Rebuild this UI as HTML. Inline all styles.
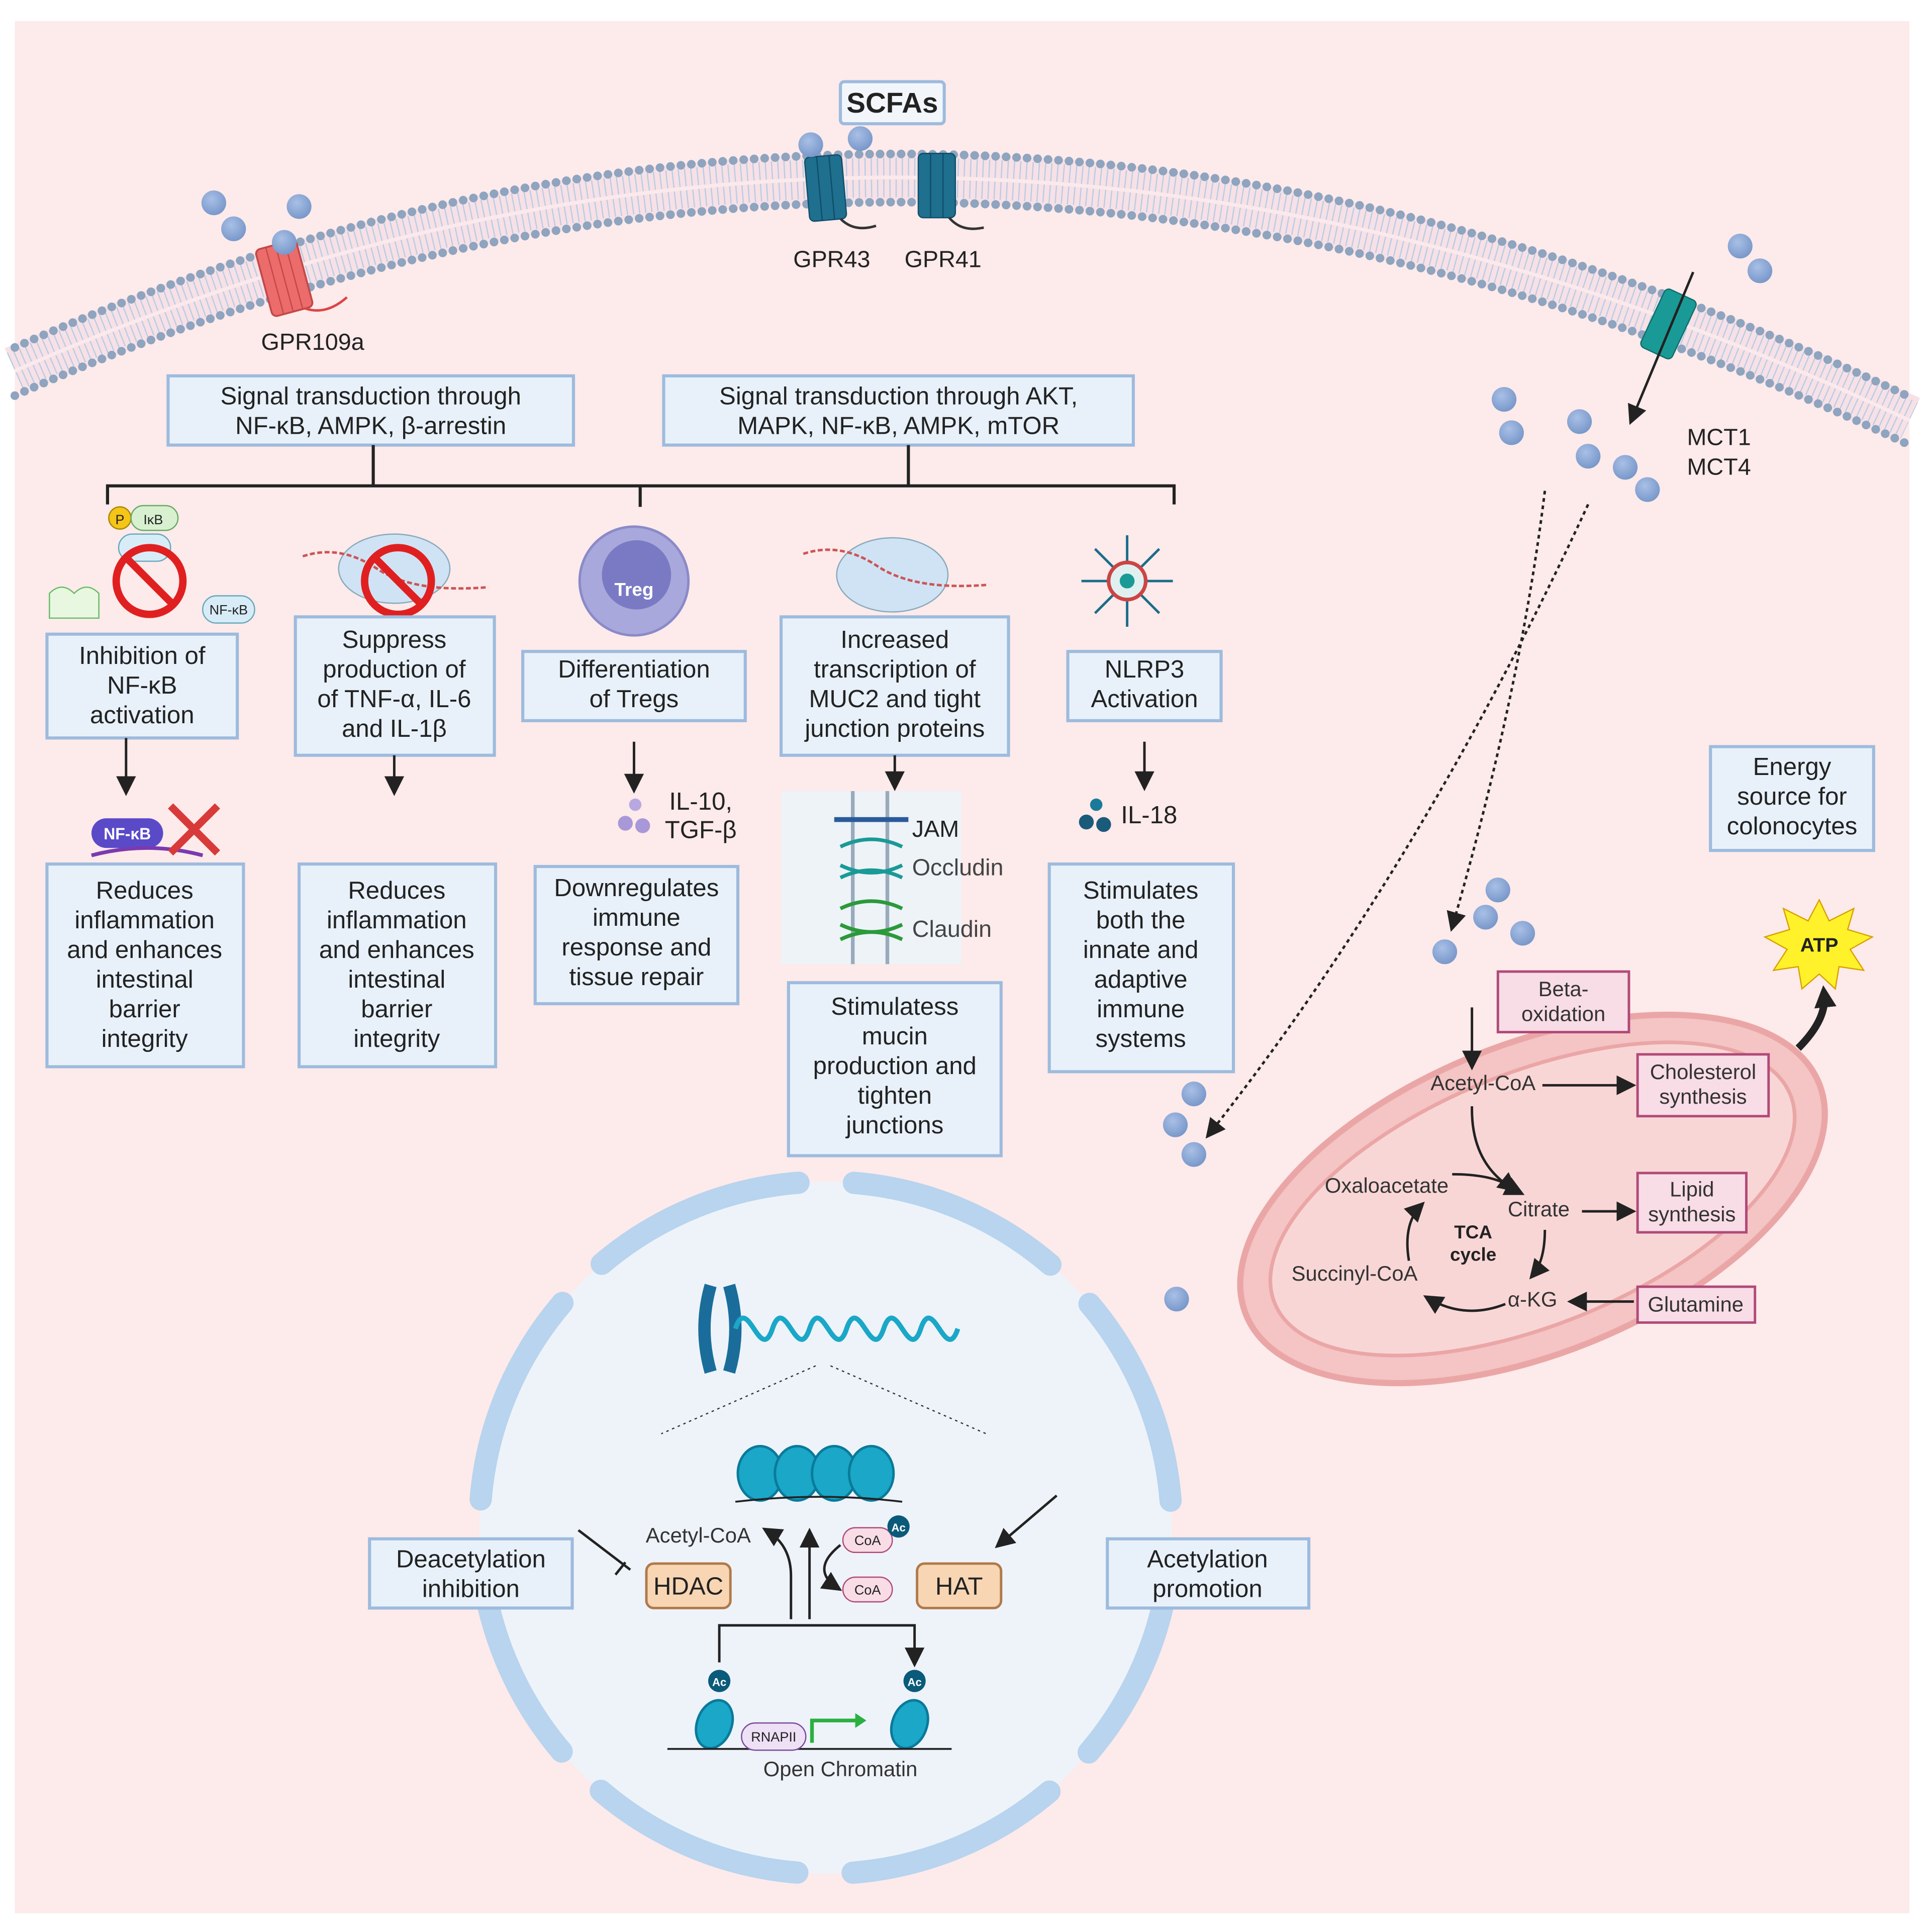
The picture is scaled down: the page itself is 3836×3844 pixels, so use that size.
<!DOCTYPE html>
<html><head><meta charset="utf-8"><style>
html,body{margin:0;padding:0;background:#fff}
svg{display:block}
text{font-family:"Liberation Sans",sans-serif;fill:#222}
.b{fill:#e8f1fa;stroke:#9dbbdd;stroke-width:2.5}
.t{font-size:20px;text-anchor:middle}
.s{font-size:16px;fill:#333}
.p{fill:#f8dce6;stroke:#b04a78;stroke-width:2}
.d{fill:#8aa6d4}
.ar{stroke:#222;stroke-width:2;fill:none;marker-end:url(#ah)}
</style></head><body>
<svg width="3836" height="3844" viewBox="0 0 1560 1563" xmlns="http://www.w3.org/2000/svg">
<defs>
<marker id="ah" markerWidth="8" markerHeight="8" refX="6" refY="4" orient="auto"><path d="M0,0 L8,4 L0,8 z" fill="#222"/></marker>
<marker id="ah2" markerWidth="18" markerHeight="18" refX="10" refY="9" orient="auto" markerUnits="userSpaceOnUse"><path d="M0,0 L18,9 L0,18 z" fill="#222"/></marker>
<radialGradient id="dg" cx="0.4" cy="0.35" r="0.7"><stop offset="0" stop-color="#a9c0e6"/><stop offset="1" stop-color="#7595c8"/></radialGradient>
</defs>
<rect x="0" y="0" width="1560" height="1563" fill="#fff"/>
<rect x="12" y="17" width="1533" height="1531" fill="#fdeaea"/>
<!-- membrane -->
<path d="M12,300 Q760,-32 1545,340" stroke="#f7e1e6" stroke-width="40" fill="none"/>
<path d="M12,300 Q760,-32 1545,340" stroke="#b9cde4" stroke-width="32" stroke-dasharray="1 4" fill="none"/>
<path d="M12,300 Q760,-32 1545,340" stroke="#fbe9ec" stroke-width="3" fill="none"/>
<path d="M12,281 Q760,-51 1545,321" stroke="#8ea4bf" stroke-width="7" stroke-linecap="round" stroke-dasharray="0 8.5" fill="none"/>
<path d="M12,320 Q760,-12 1545,360" stroke="#8ea4bf" stroke-width="7" stroke-linecap="round" stroke-dasharray="0 8.5" fill="none"/>
<!-- SCFA box -->
<rect x="680" y="66" width="84" height="34" rx="3" fill="#f2f6fb" stroke="#9dbbdd" stroke-width="2.5"/>
<text x="722" y="91" style="font-size:23px;font-weight:bold" text-anchor="middle">SCFAs</text>
<!-- receptors -->
<g transform="translate(230,225) rotate(-15)"><rect x="-17" y="-28" width="34" height="56" rx="4" fill="#ec6b6b" stroke="#c24848" stroke-width="1.5"/><path d="M-8,-28v56M0,-28v56M8,-28v56" stroke="#c24848"/><path d="M10,28 q15,10 35,0" stroke="#d44" stroke-width="2" fill="none"/></g>
<g transform="translate(668,152) rotate(-5)"><rect x="-15" y="-26" width="30" height="52" rx="4" fill="#1f6f8e" stroke="#0f4e69"/><path d="M-5,-26v52M5,-26v52" stroke="#0f4e69"/><path d="M10,26 q10,12 28,8" stroke="#333" stroke-width="2" fill="none"/></g>
<g transform="translate(758,150)"><rect x="-15" y="-26" width="30" height="52" rx="4" fill="#1f6f8e" stroke="#0f4e69"/><path d="M-5,-26v52M5,-26v52" stroke="#0f4e69"/><path d="M10,26 q10,12 28,8" stroke="#333" stroke-width="2" fill="none"/></g>
<g transform="translate(1350,262) rotate(25)"><rect x="-14" y="-26" width="28" height="52" rx="4" fill="#1a9a96" stroke="#0e6d6a"/></g>
<line x1="1370" y1="220" x2="1320" y2="340" class="ar"/>
<text x="253" y="283" class="t" style="font-size:19px">GPR109a</text>
<text x="673" y="216" class="t" style="font-size:19px">GPR43</text>
<text x="763" y="216" class="t" style="font-size:19px">GPR41</text>
<text x="1365" y="360" style="font-size:19px">MCT1</text>
<text x="1365" y="384" style="font-size:19px">MCT4</text>
<!-- dots -->
<g fill="url(#dg)">
<circle cx="173" cy="164" r="10"/><circle cx="189" cy="185" r="10"/><circle cx="242" cy="167" r="10"/><circle cx="230" cy="196" r="10"/>
<circle cx="656" cy="117" r="10"/><circle cx="696" cy="112" r="10"/><circle cx="1408" cy="199" r="10"/><circle cx="1424" cy="219" r="10"/>
<circle cx="1217" cy="323" r="10"/><circle cx="1223" cy="350" r="10"/><circle cx="1278" cy="341" r="10"/><circle cx="1285" cy="369" r="10"/>
<circle cx="1315" cy="378" r="10"/><circle cx="1333" cy="396" r="10"/><circle cx="1212" cy="720" r="10"/><circle cx="1202" cy="742" r="10"/>
<circle cx="1232" cy="755" r="10"/><circle cx="1169" cy="770" r="10"/><circle cx="966" cy="885" r="10"/><circle cx="951" cy="910" r="10"/>
<circle cx="966" cy="934" r="10"/><circle cx="952" cy="1051" r="10"/><circle cx="441" cy="1197" r="10"/><circle cx="475" cy="1197" r="10"/>
<circle cx="455" cy="1217" r="10"/><circle cx="880" cy="1155" r="10"/><circle cx="870" cy="1178" r="10"/><circle cx="898" cy="1190" r="10"/>
</g>
<!-- dotted paths -->
<path d="M1250,397 Q1230,560 1175,750" stroke="#222" stroke-width="2" stroke-dasharray="3 3" fill="none" marker-end="url(#ah)"/>
<path d="M1285,408 Q1150,700 978,918" stroke="#222" stroke-width="2" stroke-dasharray="3 3" fill="none" marker-end="url(#ah)"/>
<!-- signal boxes -->
<rect x="136" y="304" width="328" height="56" class="b"/>
<text class="t" x="300" y="327">Signal transduction through<tspan x="300" dy="24">NF-κB, AMPK, β-arrestin</tspan></text>
<rect x="537" y="304" width="380" height="56" class="b"/>
<text class="t" x="727" y="327">Signal transduction through AKT,<tspan x="727" dy="24">MAPK, NF-κB, AMPK, mTOR</tspan></text>
<path d="M302,360V393M735,360V393M87,408V393H950V408M518,393V410" stroke="#222" stroke-width="2.5" fill="none"/>
<!-- icons row -->
<circle cx="97" cy="419" r="9" fill="#f5c518" stroke="#a80"/><text x="97" y="424" class="t" style="font-size:11px">P</text>
<rect x="106" y="409" width="38" height="20" rx="10" fill="#d8f0d0" stroke="#6a6"/><text x="124" y="424" class="t" style="font-size:11px">IκB</text>
<rect x="96" y="432" width="42" height="22" rx="11" fill="#d8ecf8" stroke="#6ab"/>
<circle cx="121" cy="470" r="27" fill="none" stroke="#e02020" stroke-width="6"/><line x1="102" y1="451" x2="140" y2="489" stroke="#e02020" stroke-width="6"/>
<path d="M40,480q10,-10 20,0q10,-10 20,0v20h-40z" fill="#e8f8e0" stroke="#6b6"/>
<rect x="164" y="482" width="42" height="22" rx="11" fill="#d8ecf8" stroke="#6ab"/><text x="185" y="497" class="t" style="font-size:11px">NF-κB</text>
<ellipse cx="319" cy="460" rx="45" ry="28" fill="#cfe3f5" stroke="#8ab"/>
<path d="M245,450 q30,-10 60,10 t90,15" stroke="#c55" stroke-width="2" fill="none" stroke-dasharray="4 2"/>
<circle cx="322" cy="470" r="27" fill="none" stroke="#e02020" stroke-width="6"/><line x1="303" y1="451" x2="341" y2="489" stroke="#e02020" stroke-width="6"/>
<circle cx="513" cy="470" r="44" fill="#a8a8dc" stroke="#8a8ac8" stroke-width="2"/><circle cx="515" cy="465" r="28" fill="#7a7ac4"/>
<text x="513" y="482" class="t" style="font-size:15px;font-weight:bold;fill:#fff">Treg</text>
<ellipse cx="722" cy="465" rx="45" ry="30" fill="#cfe3f5" stroke="#8ab"/>
<path d="M650,448 q30,-10 60,10 t90,15" stroke="#c55" stroke-width="2" fill="none" stroke-dasharray="4 2"/>
<g stroke="#1a6d8a" stroke-width="2"><path d="M875,470h74M912,433v74M886,444l52,52M938,444l-52,52"/></g>
<circle cx="912" cy="470" r="15" fill="#e0f0f0" stroke="#c44" stroke-width="3"/><circle cx="912" cy="470" r="6" fill="#1a9a96"/>
<!-- row boxes -->
<rect x="38" y="513" width="154" height="84" class="b"/>
<text class="t" x="115" y="537">Inhibition of<tspan x="115" dy="24">NF-κB</tspan><tspan x="115" dy="24">activation</tspan></text>
<rect x="239" y="499" width="161" height="112" class="b"/>
<text class="t" x="319" y="524">Suppress<tspan x="319" dy="24">production of</tspan><tspan x="319" dy="24">of TNF-α, IL-6</tspan><tspan x="319" dy="24">and IL-1β</tspan></text>
<rect x="423" y="527" width="180" height="56" class="b"/>
<text class="t" x="513" y="548">Differentiation<tspan x="513" dy="24">of Tregs</tspan></text>
<rect x="632" y="499" width="184" height="112" class="b"/>
<text class="t" x="724" y="524">Increased<tspan x="724" dy="24">transcription of</tspan><tspan x="724" dy="24">MUC2 and tight</tspan><tspan x="724" dy="24">junction proteins</tspan></text>
<rect x="864" y="527" width="124" height="56" class="b"/>
<text class="t" x="926" y="548">NLRP3<tspan x="926" dy="24">Activation</tspan></text>
<line x1="102" y1="597" x2="102" y2="640" class="ar"/>
<line x1="319" y1="611" x2="319" y2="640" class="ar"/>
<line x1="513" y1="600" x2="513" y2="638" class="ar"/>
<line x1="724" y1="611" x2="724" y2="636" class="ar"/>
<line x1="926" y1="600" x2="926" y2="636" class="ar"/>
<!-- mid icons -->
<rect x="74" y="662" width="58" height="24" rx="12" fill="#5a4ac8"/><text x="103" y="679" class="t" style="font-size:13px;font-weight:bold;fill:#fff">NF-κB</text>
<path d="M74,692 q45,-12 90,0" stroke="#7a3ab0" stroke-width="3" fill="none"/>
<path d="M138,652l38,38M176,652l-38,38" stroke="#d83a3a" stroke-width="6"/>
<circle cx="514" cy="651" r="5" fill="#b8a8e0"/><circle cx="506" cy="666" r="6" fill="#a898d8"/><circle cx="520" cy="668" r="6" fill="#a898d8"/>
<text x="567" y="655" class="t">IL-10,</text><text x="567" y="678" class="t">TGF-β</text>
<circle cx="887" cy="651" r="5" fill="#1a7a9a"/><circle cx="879" cy="665" r="6" fill="#1a5a7a"/><circle cx="893" cy="667" r="6" fill="#1a5a7a"/>
<text x="907" y="666" style="font-size:20px">IL-18</text>
<rect x="632" y="640" width="146" height="140" fill="#eef3f8"/>
<path d="M690,640V780M718,640V780" stroke="#9ab" stroke-width="3"/>
<path d="M675,663h60" stroke="#2a5a9a" stroke-width="4"/>
<path d="M680,685q25,-12 50,0M680,700q25,12 50,0M680,710q25,-12 50,0" stroke="#1a9a96" stroke-width="3" fill="none"/>
<path d="M680,735q25,-12 50,0M680,748q25,12 50,0M680,760q25,-12 50,0" stroke="#2a9a3a" stroke-width="3" fill="none"/>
<text x="738" y="677" style="font-size:19px">JAM</text>
<text x="738" y="708" style="font-size:19px;fill:#444">Occludin</text>
<text x="738" y="758" style="font-size:19px;fill:#444">Claudin</text>
<!-- lower boxes -->
<rect x="38" y="699" width="159" height="164" class="b"/>
<text class="t" x="117" y="727">Reduces<tspan x="117" dy="24">inflammation</tspan><tspan x="117" dy="24">and enhances</tspan><tspan x="117" dy="24">intestinal</tspan><tspan x="117" dy="24">barrier</tspan><tspan x="117" dy="24">integrity</tspan></text>
<rect x="242" y="699" width="159" height="164" class="b"/>
<text class="t" x="321" y="727">Reduces<tspan x="321" dy="24">inflammation</tspan><tspan x="321" dy="24">and enhances</tspan><tspan x="321" dy="24">intestinal</tspan><tspan x="321" dy="24">barrier</tspan><tspan x="321" dy="24">integrity</tspan></text>
<rect x="433" y="701" width="164" height="111" class="b"/>
<text class="t" x="515" y="725">Downregulates<tspan x="515" dy="24">immune</tspan><tspan x="515" dy="24">response and</tspan><tspan x="515" dy="24">tissue repair</tspan></text>
<rect x="638" y="795" width="172" height="140" class="b"/>
<text class="t" x="724" y="821">Stimulatess<tspan x="724" dy="24">mucin</tspan><tspan x="724" dy="24">production and</tspan><tspan x="724" dy="24">tighten</tspan><tspan x="724" dy="24">junctions</tspan></text>
<rect x="849" y="699" width="149" height="168" class="b"/>
<text class="t" x="923" y="727">Stimulates<tspan x="923" dy="24">both the</tspan><tspan x="923" dy="24">innate and</tspan><tspan x="923" dy="24">adaptive</tspan><tspan x="923" dy="24">immune</tspan><tspan x="923" dy="24">systems</tspan></text>
<rect x="1384" y="604" width="132" height="84" class="b"/>
<text class="t" x="1450" y="627">Energy<tspan x="1450" dy="24">source for</tspan><tspan x="1450" dy="24">colonocytes</tspan></text>
<!-- mitochondrion -->
<g transform="rotate(-22 1240 970)">
<ellipse cx="1240" cy="970" rx="250" ry="125" fill="#f5c4c4" stroke="#eaa6a6" stroke-width="5"/>
<ellipse cx="1240" cy="970" rx="225" ry="102" fill="#f9d6d6" stroke="#eaa6a6" stroke-width="3"/>
</g>
<polygon points="1472,728 1480,745 1500,735 1495,752 1515,758 1497,768 1508,785 1488,782 1485,800 1472,788 1458,800 1455,782 1435,785 1446,768 1428,758 1448,752 1443,735 1463,745" fill="#fff22a" stroke="#d8a000"/>
<text x="1472" y="770" class="t" style="font-size:16px;font-weight:bold">ATP</text>
<path d="M1455,848 Q1478,825 1476,805" stroke="#222" stroke-width="6" fill="none" marker-end="url(#ah2)"/>
<rect x="1212" y="786" width="106" height="49" class="p"/>
<text class="t s" x="1265" y="806" style="font-size:17px">Beta-<tspan x="1265" dy="20">oxidation</tspan></text>
<rect x="1325" y="853" width="106" height="50" class="p"/>
<text class="t s" x="1378" y="873" style="font-size:17px">Cholesterol<tspan x="1378" dy="20">synthesis</tspan></text>
<rect x="1325" y="949" width="88" height="48" class="p"/>
<text class="t s" x="1369" y="968" style="font-size:17px">Lipid<tspan x="1369" dy="20">synthesis</tspan></text>
<rect x="1325" y="1041" width="95" height="29" class="p"/>
<text class="t s" x="1372" y="1061" style="font-size:17px">Glutamine</text>
<text class="t s" x="1200" y="882" style="font-size:17px">Acetyl-CoA</text>
<text class="t s" x="1122" y="965" style="font-size:17px">Oxaloacetate</text>
<text class="t s" x="1245" y="984" style="font-size:17px">Citrate</text>
<text class="t s" x="1096" y="1036" style="font-size:17px">Succinyl-CoA</text>
<text class="t s" x="1240" y="1057" style="font-size:17px">α-KG</text>
<text class="t" x="1192" y="1002" style="font-size:15px;font-weight:bold">TCA<tspan x="1192" dy="18">cycle</tspan></text>
<line x1="1191" y1="815" x2="1191" y2="862" class="ar"/>
<line x1="1248" y1="878" x2="1320" y2="878" class="ar"/>
<line x1="1280" y1="980" x2="1320" y2="980" class="ar"/>
<line x1="1322" y1="1053" x2="1272" y2="1053" class="ar"/>
<path d="M1191,895 Q1190,945 1230,965" class="ar"/>
<path d="M1175,950 Q1210,950 1225,962" class="ar"/>
<path d="M1250,995 Q1250,1020 1240,1032" class="ar"/>
<path d="M1218,1055 Q1185,1068 1155,1050" class="ar"/>
<path d="M1140,1020 Q1135,990 1150,975" class="ar"/>
<!-- nucleus -->
<circle cx="668" cy="1236" r="280" fill="#eef3fa"/>
<circle cx="668" cy="1236" r="280" fill="none" stroke="#b8d4ee" stroke-width="18" stroke-linecap="round" stroke-dasharray="175 44.9" stroke-dashoffset="197"/>
<path d="M575,1040 q-10,35 0,70M590,1040 q10,35 0,70" stroke="#1a6d9a" stroke-width="10" fill="none"/>
<path d="M595,1075 c10,-30 20,30 30,0 c10,-30 20,30 30,0 c10,-30 20,30 30,0 c10,-30 20,30 30,0 c10,-30 20,30 30,0 c10,-30 20,30 30,0" stroke="#1aa7c8" stroke-width="4" fill="none"/>
<path d="M660,1105 L535,1160M672,1105 L798,1160" stroke="#333" stroke-dasharray="2 3"/>
<g fill="#1aa7c8" stroke="#0a7a9a" stroke-width="2">
<ellipse cx="615" cy="1192" rx="18" ry="22"/><ellipse cx="645" cy="1192" rx="18" ry="22"/><ellipse cx="675" cy="1192" rx="18" ry="22"/><ellipse cx="705" cy="1192" rx="18" ry="22"/>
</g>
<path d="M595,1215 q70,-8 135,0" stroke="#222" stroke-width="1.5" fill="none"/>
<rect x="299" y="1245" width="164" height="56" class="b"/>
<text class="t" x="381" y="1268">Deacetylation<tspan x="381" dy="24">inhibition</tspan></text>
<rect x="896" y="1245" width="163" height="56" class="b"/>
<text class="t" x="977" y="1268">Acetylation<tspan x="977" dy="24">promotion</tspan></text>
<path d="M468,1238 L510,1270M506,1264l-8,10" stroke="#222" stroke-width="2" fill="none"/>
<line x1="855" y1="1210" x2="808" y2="1250" class="ar"/>
<rect x="523" y="1265" width="68" height="36" rx="6" fill="#f8d6b4" stroke="#b07a4a" stroke-width="2"/>
<text class="t" x="557" y="1290">HDAC</text>
<rect x="742" y="1265" width="68" height="36" rx="6" fill="#f8d6b4" stroke="#b07a4a" stroke-width="2"/>
<text class="t" x="776" y="1290">HAT</text>
<text class="t s" x="565" y="1248" style="font-size:17px">Acetyl-CoA</text>
<rect x="682" y="1236" width="40" height="20" rx="10" fill="#f8dce6" stroke="#b04a78"/><text class="t" x="702" y="1250" style="font-size:11px">CoA</text>
<circle cx="727" cy="1235" r="9" fill="#0a5a7a"/><text class="t" x="727" y="1239" style="font-size:9px;fill:#fff;font-weight:bold">Ac</text>
<rect x="682" y="1276" width="40" height="20" rx="10" fill="#f8dce6" stroke="#b04a78"/><text class="t" x="702" y="1290" style="font-size:11px">CoA</text>
<path d="M640,1310 V1275 Q640,1250 620,1238" class="ar"/>
<path d="M655,1310 V1240" class="ar"/>
<path d="M680,1250 Q655,1270 678,1285" class="ar"/>
<path d="M582,1340 V1315 H740 V1340M582,1325v20M740,1325v20" class="ar"/>
<circle cx="582" cy="1360" r="9" fill="#0a5a7a"/><text class="t" x="582" y="1364" style="font-size:9px;fill:#fff;font-weight:bold">Ac</text>
<circle cx="740" cy="1360" r="9" fill="#0a5a7a"/><text class="t" x="740" y="1364" style="font-size:9px;fill:#fff;font-weight:bold">Ac</text>
<ellipse cx="578" cy="1395" rx="14" ry="20" fill="#1aa7c8" stroke="#0a7a9a" stroke-width="2" transform="rotate(20 578 1395)"/>
<ellipse cx="736" cy="1395" rx="14" ry="20" fill="#1aa7c8" stroke="#0a7a9a" stroke-width="2" transform="rotate(20 736 1395)"/>
<path d="M540,1415 H770" stroke="#222" stroke-width="1.5"/>
<rect x="600" y="1394" width="52" height="22" rx="11" fill="#eee0f5" stroke="#7a4a9a"/><text class="t" x="626" y="1409" style="font-size:11px">RNAPII</text>
<path d="M657,1410 V1392 H695" stroke="#2ab040" stroke-width="3" fill="none"/><path d="M692,1386 l9,6 l-9,6z" fill="#2ab040"/>
<text class="t s" x="680" y="1437" style="font-size:17px">Open Chromatin</text>
</svg>
</body></html>
